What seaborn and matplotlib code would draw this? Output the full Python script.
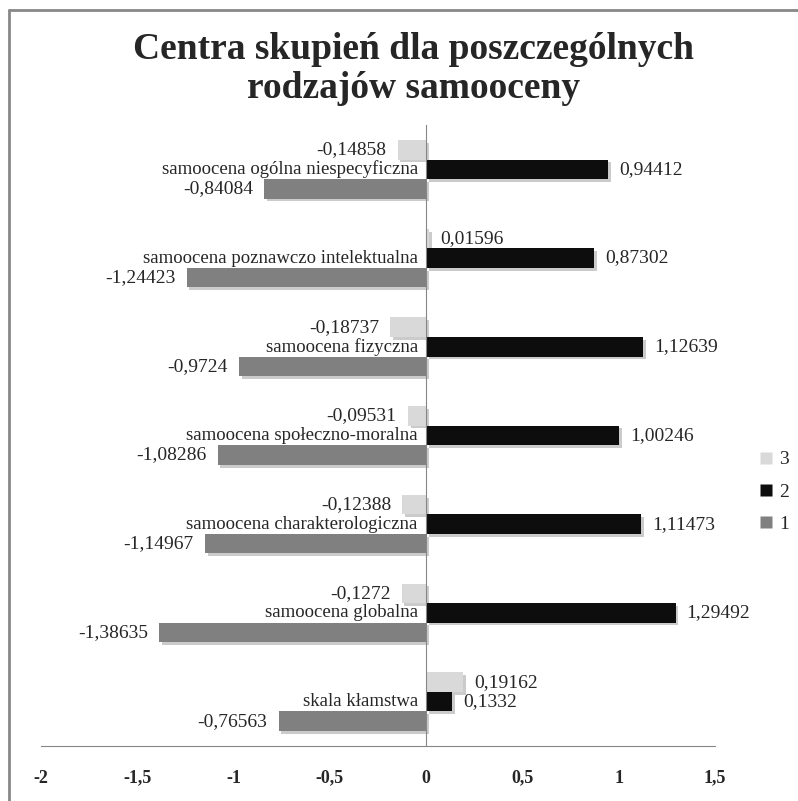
import numpy as np
import pandas as pd
import matplotlib
matplotlib.use("Agg")
import matplotlib.pyplot as plt
import matplotlib.patheffects as pe
from matplotlib.lines import Line2D
import seaborn as sns

# ---------------------------------------------------------------------
# DATA
# ---------------------------------------------------------------------
categories = [
    "samoocena ogólna niespecyficzna",
    "samoocena poznawczo intelektualna",
    "samoocena fizyczna",
    "samoocena społeczno-moralna",
    "samoocena charakterologiczna",
    "samoocena globalna",
    "skala kłamstwa",
]
seria_1 = [-0.84084, -1.24423, -0.9724, -1.08286, -1.14967, -1.38635, -0.76563]
seria_2 = [0.94412, 0.87302, 1.12639, 1.00246, 1.11473, 1.29492, 0.1332]
seria_3 = [-0.14858, 0.01596, -0.18737, -0.09531, -0.12388, -0.1272, 0.19162]
series_names = ["3", "2", "1"]
x_ticks = [-2, -1.5, -1, -0.5, 0, 0.5, 1, 1.5]

values = {"3": seria_3, "2": seria_2, "1": seria_1}
colors = {"3": "#d9d9d9", "2": "#0d0d0d", "1": "#808080"}

rows = []
for name in series_names:
    for cat, v in zip(categories, values[name]):
        rows.append({"kategoria": cat, "wartosc": v, "seria": name})
df = pd.DataFrame(rows)


def fmt(v):
    return f"{v:g}".replace(".", ",")


# ---------------------------------------------------------------------
# PLOT
# ---------------------------------------------------------------------
sns.set_style("white")
plt.rcParams["font.family"] = ["Liberation Serif", "DejaVu Serif"]

fig = plt.figure(figsize=(7.98, 8.01), dpi=100)
ax = fig.add_axes([0.0514, 0.0687, 0.8446, 0.7753])

sns.barplot(data=df, y="kategoria", x="wartosc", hue="seria",
            hue_order=series_names, palette=colors, orient="h",
            width=0.66, saturation=1, ax=ax, legend=False)

shadow = [pe.SimplePatchShadow(offset=(2, -2), shadow_rgbFace="#999999", alpha=0.5),
          pe.Normal()]
for cont, name in zip(ax.containers, series_names):
    for bar in cont:
        bar.set_path_effects(shadow)
        bar.set_edgecolor("none")
    ax.bar_label(cont, labels=[fmt(v) for v in values[name]], padding=8,
                 fontsize=14)

# category labels next to the zero axis
for i, cat in enumerate(categories):
    ax.annotate(cat, xy=(0, i), xytext=(-6, 0), textcoords="offset points",
                ha="right", va="center", fontsize=13.5)

ax.set_xlim(-2, 1.5)
ax.set_ylim(6.5, -0.5)
ax.set_xticks(x_ticks)
ax.set_xticklabels([fmt(t) for t in x_ticks], fontweight="bold", fontsize=13)
ax.set_yticks(np.arange(-0.5, 7, 1))
ax.set_yticklabels([])
ax.set_xlabel("")
ax.set_ylabel("")

for side in ["top", "right"]:
    ax.spines[side].set_visible(False)
ax.spines["left"].set_position(("data", 0))
ax.spines["left"].set_color("#868686")
ax.spines["bottom"].set_color("#868686")
ax.tick_params(axis="x", direction="out", length=6, color="#868686", pad=11)
ax.tick_params(axis="y", direction="out", length=6, color="#868686")

handles = [Line2D([], [], marker="s", linestyle="none", markersize=8,
                  markerfacecolor=colors[n], markeredgecolor="none")
           for n in series_names]
fig.legend(handles, series_names, loc="center left",
           bbox_to_anchor=(0.928, 0.386), frameon=False, fontsize=14,
           handletextpad=0.3, labelspacing=0.75, handlelength=0.8)

fig.text(0.518, 0.914, "Centra skupień dla poszczególnych\nrodzajów samooceny",
         ha="center", va="center", fontsize=27, fontweight="bold",
         linespacing=1.15)

# chart area border (left and top edges)
fig.add_artist(Line2D([9 / 798, 9 / 798], [0, 1 - 10 / 801],
                      transform=fig.transFigure, color="#888888", lw=2))
fig.add_artist(Line2D([9 / 798, 1], [1 - 10 / 801, 1 - 10 / 801],
                      transform=fig.transFigure, color="#888888", lw=2))

fig.savefig("out.png", dpi=100)
